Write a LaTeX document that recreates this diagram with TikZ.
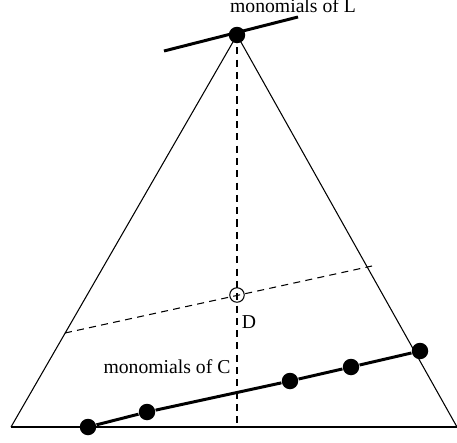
\documentclass[tikz,border=0pt]{standalone}
\usepackage{fontspec}
\setmainfont{Liberation Serif}
\begin{document}
\begin{tikzpicture}[x=0.02cm,y=-0.02cm,line width=0.6pt,
  every node/.style={font=\fontsize{11.2}{13}\selectfont},
  mono/.style={circle,fill=black,inner sep=0pt,minimum size=0.33cm},
  cent/.style={circle,draw,inner sep=0pt,minimum size=0.29cm},
  dline/.style={dash pattern=on 4pt off 3pt}]
\useasboundingbox (0,0) rectangle (457,443);
% triangle
\coordinate (bl) at (11,427);
\coordinate (br) at (457,427);
\node[mono] (top) at (237,35) {};
\draw (bl) -- (top.center) -- (br);
\draw (bl) -- (br);
% line through L
\coordinate (l1) at (164,51);
\coordinate (l2) at (298,17);
\draw[line width=1.7pt] (l1) -- (l2);
\node (labL) at (293,6) {monomials of L};
% dashed lines and centre
\coordinate (foot) at (237,427);
\coordinate (d1) at (65,333);
\coordinate (d2) at (372,266);
\node[cent] (D) at (237,295) {};
\draw[dline] (top.center) -- (foot);
\draw[dline] (d1) -- (d2);
\node (labD) at (249,322) {D};
% monomials of C
\foreach \n/\x/\y in {c1/88/427,c2/147/412,c3/290/381,c4/351/367,c5/420/351}
  \node[mono] (\n) at (\x,\y) {};
\draw[line width=1.7pt] (c1) -- (c2) -- (c3) -- (c4) -- (c5);
\node (labC) at (167,367) {monomials of C};
\end{tikzpicture}
\end{document}
